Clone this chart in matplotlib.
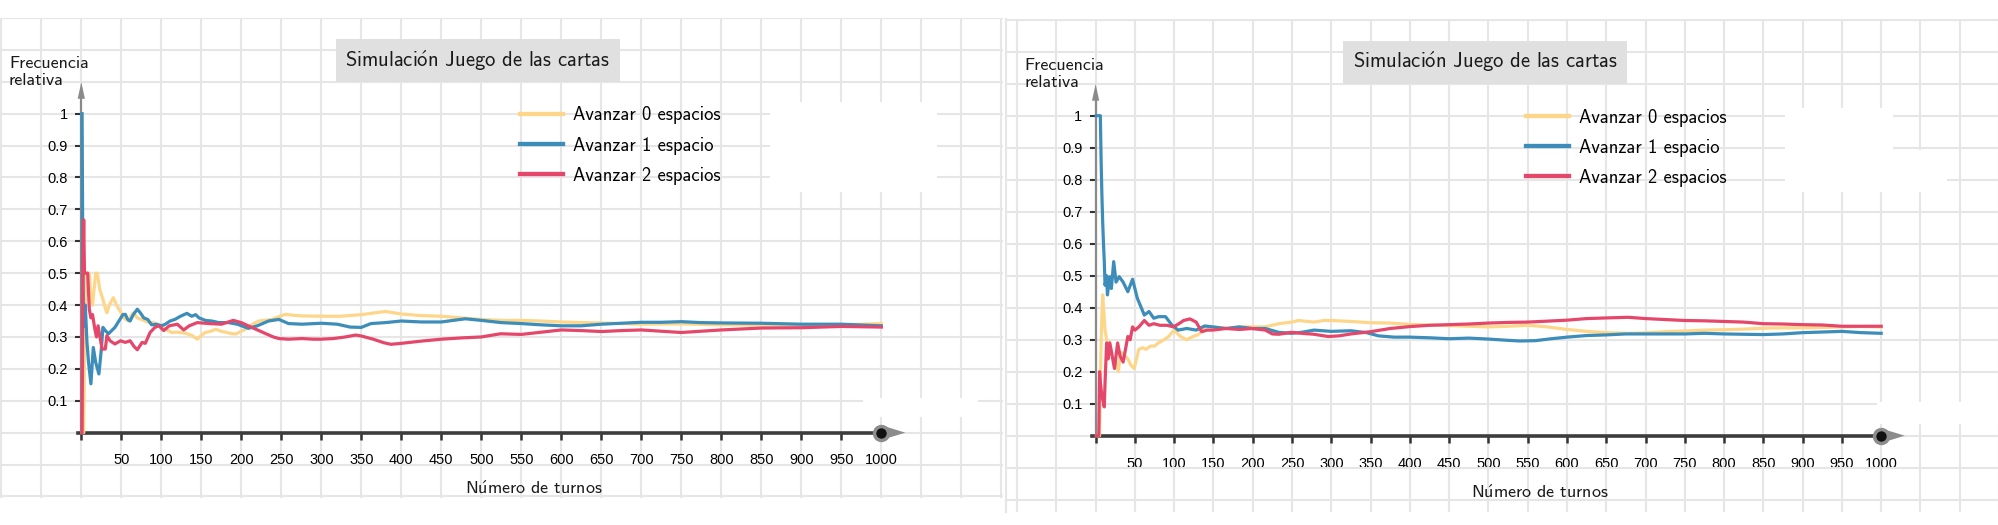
import numpy as np
import matplotlib
matplotlib.use('Agg')
import matplotlib.pyplot as plt
from matplotlib.lines import Line2D
from matplotlib.patches import Rectangle
from matplotlib.font_manager import FontProperties

plt.rcParams['mathtext.fontset'] = 'cm'

# ── datos: simulación izquierda (turno, frecuencia relativa) ──────────────────
izq_avanzar0 = [(1, 0), (3, 0), (4, 0.25), (5, 0.4), (6, 0.5), (10, 0.5), (12, 0.42), (14, 0.40),
                (16, 0.45), (18, 0.5), (20, 0.5), (23, 0.45), (27, 0.418), (30, 0.39), (32, 0.376),
                (35, 0.4), (40, 0.423), (44, 0.4), (47, 0.387), (50, 0.375), (53, 0.36), (56, 0.355),
                (59, 0.35), (62, 0.365), (65, 0.376), (70, 0.36), (75, 0.355), (80, 0.35), (85, 0.345),
                (90, 0.345), (99, 0.335), (105, 0.325), (113, 0.314), (120, 0.315), (130, 0.312),
                (138, 0.305), (145, 0.293), (150, 0.305), (155, 0.314), (162, 0.318), (168, 0.324),
                (175, 0.318), (185, 0.312), (193, 0.309), (200, 0.318), (205, 0.324), (214, 0.34),
                (222, 0.35), (238, 0.355), (255, 0.371), (265, 0.368), (276, 0.366), (300, 0.365),
                (325, 0.365), (350, 0.37), (365, 0.375), (380, 0.38), (400, 0.372), (425, 0.367),
                (450, 0.365), (475, 0.36), (500, 0.355), (525, 0.352), (550, 0.352), (575, 0.35),
                (600, 0.347), (625, 0.345), (650, 0.344), (700, 0.34), (750, 0.341), (800, 0.338),
                (850, 0.337), (900, 0.337), (950, 0.338), (1000, 0.342)]

izq_avanzar1 = [(1, 1.0), (2, 0.5), (3, 0.333), (5, 0.4), (7, 0.286), (9, 0.222), (12, 0.153),
                (15, 0.267), (18, 0.22), (22, 0.184), (25, 0.26), (27, 0.33), (30, 0.32), (34, 0.31),
                (38, 0.32), (42, 0.33), (47, 0.35), (52, 0.37), (55, 0.371), (58, 0.355), (61, 0.35),
                (65, 0.37), (70, 0.387), (74, 0.375), (78, 0.36), (83, 0.355), (88, 0.338), (94, 0.34),
                (100, 0.335), (105, 0.34), (111, 0.35), (117, 0.355), (124, 0.365), (132, 0.374),
                (138, 0.365), (143, 0.37), (147, 0.36), (155, 0.352), (163, 0.35), (172, 0.345),
                (184, 0.345), (195, 0.34), (209, 0.327), (220, 0.335), (234, 0.35), (247, 0.355),
                (259, 0.342), (276, 0.34), (300, 0.343), (320, 0.34), (336, 0.331), (350, 0.33),
                (362, 0.342), (380, 0.345), (400, 0.35), (425, 0.347), (450, 0.347), (480, 0.357),
                (500, 0.352), (525, 0.345), (550, 0.342), (575, 0.338), (600, 0.335), (625, 0.335),
                (650, 0.34), (675, 0.343), (700, 0.346), (725, 0.346), (750, 0.348), (775, 0.345),
                (800, 0.344), (850, 0.343), (900, 0.34), (950, 0.34), (1000, 0.335)]

izq_avanzar2 = [(1, 0), (2, 0.5), (3, 0.667), (4, 0.5), (8, 0.5), (10, 0.387), (12, 0.36), (14, 0.37),
                (17, 0.324), (19, 0.30), (21, 0.335), (24, 0.29), (26, 0.262), (30, 0.262), (32, 0.304),
                (36, 0.288), (42, 0.278), (49, 0.288), (55, 0.283), (61, 0.288), (66, 0.27), (70, 0.26),
                (76, 0.283), (80, 0.28), (86, 0.314), (92, 0.33), (97, 0.335), (103, 0.32), (110, 0.335),
                (120, 0.34), (128, 0.322), (135, 0.335), (145, 0.345), (160, 0.342), (175, 0.34),
                (190, 0.352), (200, 0.345), (213, 0.33), (222, 0.32), (230, 0.311), (240, 0.30),
                (247, 0.295), (259, 0.293), (276, 0.295), (290, 0.293), (300, 0.293), (315, 0.295),
                (330, 0.3), (343, 0.306), (350, 0.303), (365, 0.293), (378, 0.282), (387, 0.277),
                (400, 0.28), (425, 0.287), (450, 0.293), (475, 0.297), (500, 0.30), (524, 0.31),
                (550, 0.308), (575, 0.315), (600, 0.322), (625, 0.32), (650, 0.317), (675, 0.32),
                (700, 0.322), (725, 0.318), (750, 0.314), (775, 0.318), (800, 0.322), (850, 0.328),
                (900, 0.329), (950, 0.333), (1000, 0.331)]

# ── datos: simulación derecha ─────────────────────────────────────────────────
der_avanzar0 = [(1, 0), (5, 0), (6, 0.17), (7, 0.29), (8, 0.375), (9, 0.44), (10, 0.4), (12, 0.33),
                (14, 0.3), (16, 0.29), (18, 0.29), (21, 0.25), (24, 0.24), (27, 0.22), (29, 0.2),
                (31, 0.25), (33, 0.26), (37, 0.25), (41, 0.24), (45, 0.22), (49, 0.21), (52, 0.24),
                (55, 0.27), (60, 0.275), (64, 0.27), (70, 0.28), (75, 0.28), (80, 0.29), (87, 0.30),
                (93, 0.31), (100, 0.33), (104, 0.32), (108, 0.31), (116, 0.30), (124, 0.31),
                (130, 0.315), (141, 0.34), (150, 0.34), (166, 0.335), (183, 0.34), (199, 0.34),
                (216, 0.34), (233, 0.35), (250, 0.355), (258, 0.36), (278, 0.355), (290, 0.36),
                (300, 0.36), (325, 0.357), (350, 0.353), (375, 0.352), (400, 0.348), (425, 0.346),
                (450, 0.344), (475, 0.342), (500, 0.34), (525, 0.342), (550, 0.345), (575, 0.34),
                (600, 0.332), (625, 0.326), (650, 0.322), (678, 0.32), (700, 0.321), (725, 0.325),
                (750, 0.327), (775, 0.33), (800, 0.331), (825, 0.333), (850, 0.336), (875, 0.337),
                (900, 0.337), (925, 0.338), (950, 0.34), (975, 0.341), (1000, 0.34)]

der_avanzar1 = [(1, 1.0), (6, 1.0), (7, 0.857), (8, 0.75), (9, 0.667), (10, 0.6), (11, 0.545),
                (12, 0.47), (14, 0.5), (15, 0.44), (18, 0.497), (20, 0.46), (23, 0.544), (26, 0.48),
                (30, 0.497), (35, 0.48), (41, 0.45), (47, 0.489), (53, 0.43), (62, 0.377), (68, 0.388),
                (74, 0.367), (80, 0.372), (89, 0.372), (97, 0.346), (105, 0.33), (116, 0.335),
                (128, 0.33), (139, 0.343), (149, 0.34), (166, 0.335), (183, 0.34), (199, 0.335),
                (216, 0.335), (233, 0.323), (249, 0.32), (262, 0.323), (278, 0.33), (300, 0.326),
                (325, 0.328), (345, 0.322), (360, 0.312), (380, 0.308), (400, 0.308), (425, 0.306),
                (450, 0.303), (475, 0.305), (500, 0.302), (525, 0.298), (540, 0.296), (560, 0.297),
                (580, 0.303), (600, 0.308), (625, 0.313), (650, 0.315), (675, 0.318), (700, 0.318),
                (725, 0.318), (750, 0.318), (775, 0.32), (800, 0.318), (825, 0.317), (850, 0.316),
                (875, 0.318), (900, 0.322), (925, 0.324), (950, 0.326), (975, 0.322), (1000, 0.32)]

der_avanzar2 = [(1, 0), (4, 0), (5, 0.2), (6, 0.167), (8, 0.125), (11, 0.09), (12, 0.167), (14, 0.29),
                (16, 0.24), (18, 0.29), (21, 0.25), (24, 0.21), (26, 0.25), (28, 0.29), (31, 0.25),
                (35, 0.23), (38, 0.27), (41, 0.31), (44, 0.3), (47, 0.34), (50, 0.33), (55, 0.34),
                (62, 0.36), (68, 0.345), (74, 0.35), (82, 0.345), (91, 0.345), (99, 0.34), (106, 0.35),
                (112, 0.36), (120, 0.365), (128, 0.355), (135, 0.325), (142, 0.33), (149, 0.33),
                (166, 0.335), (183, 0.332), (199, 0.335), (216, 0.33), (225, 0.318), (233, 0.317),
                (249, 0.323), (262, 0.32), (278, 0.317), (296, 0.31), (310, 0.312), (325, 0.318),
                (350, 0.325), (375, 0.335), (400, 0.341), (425, 0.345), (450, 0.347), (475, 0.349),
                (500, 0.352), (525, 0.354), (550, 0.355), (575, 0.358), (600, 0.361), (625, 0.366),
                (650, 0.368), (678, 0.37), (700, 0.366), (725, 0.363), (750, 0.36), (775, 0.359),
                (800, 0.357), (825, 0.355), (850, 0.35), (875, 0.349), (900, 0.347), (925, 0.346),
                (950, 0.342), (975, 0.342), (1000, 0.342)]

etiquetas = ['Avanzar 0 espacios', 'Avanzar 1 espacio', 'Avanzar 2 espacios']
x_ticks = list(range(50, 1001, 50))
y_ticks = [0.1, 0.2, 0.3, 0.4, 0.5, 0.6, 0.7, 0.8, 0.9, 1.0]
y_tick_labels = ['0.1', '0.2', '0.3', '0.4', '0.5', '0.6', '0.7', '0.8', '0.9', '1']
TURNOS_MAX = 1000

# ── estilo ────────────────────────────────────────────────────────────────────
COLORES = ['#FDD68A', '#3C8DBA', '#E5476B']
GRID = '#e6e6e6'
TXT = ['cmss10', 'DejaVu Sans']
TITULO = r'Simulaci$\mathsf{\acute{o}}$n Juego de las cartas'
XLABEL = r'N$\mathsf{\acute{u}}$mero de turnos'

W, H = 1999, 525
SX = 0.8  # px por turno


def panel(fig, box, origin, sy, series):
    left, top, right, bottom = box
    x0, y0 = origin
    ax = fig.add_axes([left / W, 1 - bottom / H, (right - left) / W, (bottom - top) / H])
    ax.set_xlim((left - x0) / SX, (right - x0) / SX)
    ax.set_ylim((y0 - bottom) / sy, (y0 - top) / sy)
    ax.set_axisbelow(True)

    # cuadrícula
    ax.set_xticks(np.arange(-100, 1151, 50), minor=True)
    ax.set_yticks(np.round(np.arange(-0.2, 1.31, 0.1), 2), minor=True)
    ax.set_xticks([0] + x_ticks, labels=[''] + [str(t) for t in x_ticks])
    ax.set_yticks(y_ticks, labels=y_tick_labels)
    ax.grid(which='both', color=GRID, lw=1.5)
    ax.tick_params(which='minor', length=0)
    ax.tick_params(axis='x', direction='out', length=5, width=1.8, color='#333333',
                   pad=10, labelsize=10.5, labelfontfamily='Liberation Sans')
    ax.tick_params(axis='y', direction='out', length=4, width=1.5, color='#333333',
                   pad=5.5, labelsize=10.5, labelfontfamily='Liberation Sans')

    # ejes
    for s in ('top', 'right'):
        ax.spines[s].set_visible(False)
    ax.spines['left'].set_position(('data', 0))
    ax.spines['bottom'].set_position(('data', 0))
    ax.spines['left'].set_bounds(0, 1.06)
    ax.spines['left'].set_color('#8a8a8a')
    ax.spines['left'].set_linewidth(1.6)
    ax.spines['bottom'].set_bounds(-4, TURNOS_MAX)
    ax.spines['bottom'].set_color('#3d3d3d')
    ax.spines['bottom'].set_linewidth(2.6)
    ax.annotate('', xy=(0, 1.099), xytext=(0, 1.05),
                arrowprops=dict(arrowstyle='-|>,head_length=12,head_width=2.6', mutation_scale=1,
                                color='#8a8a8a', lw=0, shrinkA=0, shrinkB=0))
    ax.annotate('', xy=(1030, 0), xytext=(995, 0),
                arrowprops=dict(arrowstyle='-|>,head_length=14,head_width=4.3', mutation_scale=1,
                                color='#8c8c8c', lw=0, shrinkA=0, shrinkB=0))
    ax.plot([TURNOS_MAX], [0], 'o', ms=10, mfc='#111111', mec='#8c8c8c', mew=2.5,
            zorder=6, clip_on=False)

    # series
    for datos, c in zip(series, COLORES):
        t, v = np.array(datos, dtype=float).T
        ax.plot(t, v, color=c, lw=2.3, zorder=4, solid_joinstyle='round')

    # textos
    ax.text(496, 1.167, TITULO, ha='center', va='center', fontsize=14.8, family=TXT,
            color='#1a1a1a', zorder=5,
            bbox=dict(boxstyle='square,pad=0.45', fc='#e0e0e0', ec='none'))
    ax.text(-90.5, 1.131, 'Frecuencia\nrelativa', ha='left', va='center', fontsize=13,
            family=TXT, color='#1a1a1a', linespacing=1.2)
    ax.text(566, -0.175, XLABEL, ha='center', va='center', fontsize=13, family=TXT,
            color='#1a1a1a')

    handles = [Line2D([], [], color=c, lw=3.1) for c in COLORES]
    ax.legend(handles, etiquetas, loc='center left', bbox_to_anchor=(548, 0.9),
              bbox_transform=ax.transData, frameon=False, borderpad=0, borderaxespad=0,
              handlelength=2.3, handletextpad=0.56, labelspacing=0.65,
              prop=FontProperties(family=TXT, size=13.4))
    return ax


def blanco(fig, x, y, w, h):
    fig.add_artist(Rectangle((x / W, 1 - (y + h) / H), w / W, h / H,
                             transform=fig.transFigure, fc='white', ec='none', zorder=1))


fig = plt.figure(figsize=(W / 100, H / 100), dpi=100)
fig.patch.set_facecolor('white')

panel(fig, (0, 18, 1003, 498), (81.3, 432.3), 320.7,
      [izq_avanzar0, izq_avanzar1, izq_avanzar2])
panel(fig, (1005, 19, 1999, 512), (1097.3, 435.7), 320.0,
      [der_avanzar0, der_avanzar1, der_avanzar2])

fig.add_artist(Line2D([1006 / W] * 2, [1 - 19 / H, 1 - 512 / H], color=GRID, lw=1.5,
                      transform=fig.transFigure))

# zonas en blanco junto a la leyenda y abajo a la derecha
blanco(fig, 770, 102, 167, 90)
blanco(fig, 863, 398, 115, 19)
blanco(fig, 1785, 108, 108, 84)
blanco(fig, 1893, 150, 54, 42)
blanco(fig, 1877, 402, 122, 22)

fig.savefig('out.png', dpi=100, facecolor='white')
